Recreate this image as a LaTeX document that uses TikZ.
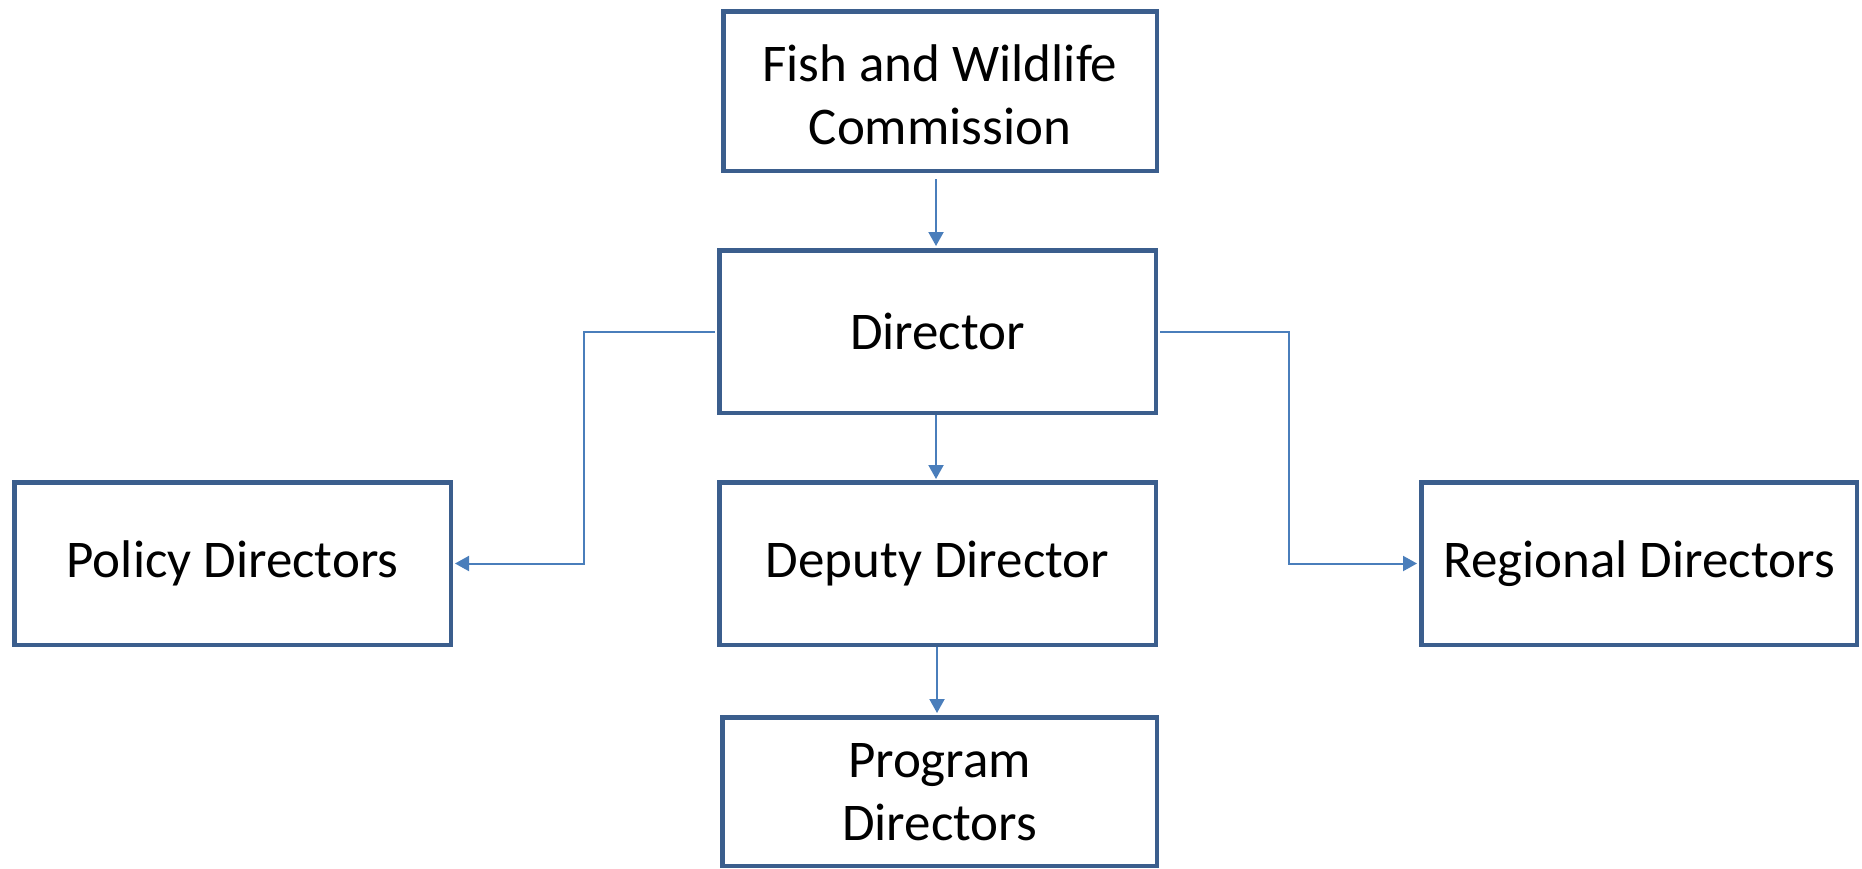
\documentclass[tikz,border=0pt]{standalone}
\usepackage{fontspec}
\setmainfont{Carlito}
\usetikzlibrary{arrows.meta}
\definecolor{boxblue}{HTML}{3B5E8D}
\definecolor{linkblue}{HTML}{4A7EBB}
\newcommand{\twolines}[3]{\raisebox{0pt}[\dimexpr\height+#1\relax][\depth]{\begin{tabular}{@{}c@{}}#2\\#3\end{tabular}}}
\tikzset{
  orgbox/.style={draw=boxblue, line width=4.5pt, rectangle, fill=white,
    inner sep=0pt, align=center, font=\fontsize{53}{63}\selectfont},
  conn/.style={draw=linkblue, line width=2pt,
    -{Triangle[length=14pt,width=15pt]}}
}
\begin{document}
\begin{tikzpicture}[x=1pt,y=-1pt]
\useasboundingbox (0,0) rectangle (1862,868);
\clip (0,0) rectangle (1862,868);
\node[orgbox, minimum width=433.5pt, minimum height=159.5pt] (fish) at (940,91) {\twolines{19pt}{Fish and Wildlife}{Commission}};
\node[orgbox, minimum width=436.5pt, minimum height=162.5pt] (dir) at (937.5,331.5) {Director};
\node[orgbox, minimum width=436.5pt, minimum height=162.5pt] (pol) at (232.5,563.5) {Policy Directors};
\node[orgbox, minimum width=436.5pt, minimum height=162.5pt] (dep) at (937.5,563.5) {Deputy Director};
\node[orgbox, minimum width=435.5pt, minimum height=162.5pt] (reg) at (1639,563.5) {Regional Directors};
\node[orgbox, minimum width=434.5pt, minimum height=148.5pt] (prog) at (939.5,791.5) {\twolines{9.5pt}{Program}{Directors}};
\coordinate (lx) at (584,0);
\coordinate (rx) at (1289,0);
\draw[conn] ([xshift=-4pt,yshift=-6pt]fish.south) -- ([xshift=-1.5pt,yshift=2pt]dir.north);
\draw[conn] ([xshift=-1.5pt]dir.south) -- ([xshift=-1.5pt,yshift=1pt]dep.north);
\draw[conn] ([xshift=-0.5pt]dep.south) -- ([xshift=-2.5pt,yshift=2pt]prog.north);
\draw[conn] ([xshift=-2pt]dir.west) -| (lx |- pol.east) -- ([xshift=2pt]pol.east);
\draw[conn] ([xshift=2pt]dir.east) -| (rx |- reg.west) -- ([xshift=-2pt]reg.west);
\end{tikzpicture}
\end{document}
